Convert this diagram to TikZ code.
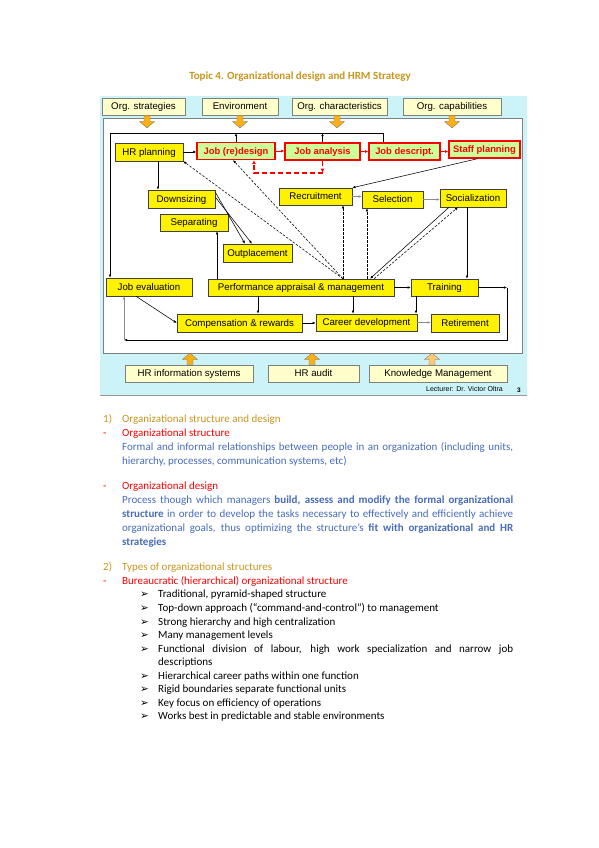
\documentclass[tikz,border=0pt]{standalone}
\usepackage{fontspec}
\setmainfont{Carlito}
\newfontfamily\arialf{Liberation Sans}
\newfontfamily\dejavuf{DejaVu Sans}
\usetikzlibrary{arrows.meta,calc}
\definecolor{goldc}{RGB}{200,150,30}
\definecolor{bluec}{RGB}{72,108,188}
\definecolor{redc}{RGB}{250,0,0}
\definecolor{cyanbg}{RGB}{204,244,248}
\definecolor{creamc}{RGB}{255,255,204}
\definecolor{greenc}{RGB}{204,255,153}
\definecolor{orangec}{RGB}{250,175,20}
\definecolor{orangel}{RGB}{252,200,120}
\tikzset{
  ybox/.style={draw=black!75,line width=0.5pt,fill=yellow,inner sep=0pt,
    text height=7pt,text depth=0.6pt,
    font=\arialf\fontsize{9.7}{10}\selectfont},
  rbox/.style={draw=redc,line width=1.2pt,fill=greenc,inner sep=0pt,text=redc,
    text height=7pt,text depth=0.6pt,
    font=\arialf\bfseries\fontsize{9.4}{10}\selectfont},
  cbox/.style={draw=black!50,line width=0.5pt,fill=creamc,inner sep=0pt,
    text height=7pt,text depth=0.6pt,
    font=\arialf\fontsize{9.7}{10}\selectfont},
  ln/.style={draw=black,line width=0.55pt},
  arr/.style={ln,-{Latex[length=3.2pt,width=2.6pt]}},
  garr/.style={draw=black!45,line width=0.55pt,-{Latex[length=3.2pt,width=2.6pt]}},
  rarr/.style={draw=redc,line width=0.8pt,-{Latex[length=3.4pt,width=3pt]}},
  darr/.style={arr,dash pattern=on 2.5pt off 1.5pt},
  rdash/.style={draw=redc,line width=1.3pt,dash pattern=on 5pt off 3pt,-{Latex[length=4pt,width=4pt]}},
  orar/.style={fill=orangec,draw=black!55,line width=0.3pt},
  bodyt/.style={inner sep=0pt,anchor=base west,font=\fontsize{11}{13}\selectfont},
}
\newcommand\ArrDn[4][orangec]{\filldraw[orar,fill=#1] ({#2-3},#3) -- ({#2+3},#3) -- ({#2+3},{#4-6.5}) -- ({#2+7.5},{#4-6.5}) -- (#2,#4) -- ({#2-7.5},{#4-6.5}) -- ({#2-3},{#4-6.5}) -- cycle;}
\newcommand\ArrUpw[4][orangec]{\filldraw[orar,fill=#1] ({#2-3},#3) -- ({#2+3},#3) -- ({#2+3},{#4+6.5}) -- ({#2+7.5},{#4+6.5}) -- (#2,#4) -- ({#2-7.5},{#4+6.5}) -- ({#2-3},{#4+6.5}) -- cycle;}
\newcommand\bul{{\dejavuf\fontsize{10.5}{10}\selectfont ➢}}
\begin{document}
\begin{tikzpicture}[x=1pt,y=-1pt]
\useasboundingbox[fill=white] (0,0) rectangle (599,848);
% title
\node[font=\bfseries\fontsize{11}{13}\selectfont,text=goldc,inner sep=0pt] (title) at (300,77) {Topic 4. Organizational design and HRM Strategy};
% backgrounds
\fill[cyanbg] (100,96) rectangle (527,395);
\draw[black!40,line width=0.6pt] (100,395) -- (527,395);
\draw[draw=black!50,fill=white,line width=0.5pt] (103,118) rectangle (522,353);
% top cream boxes
\node[cbox,minimum width=83pt,minimum height=17pt] (ostr) at (143.5,106.5) {Org. strategies};
\node[cbox,minimum width=76pt,minimum height=17pt] (oenv) at (240,106.5) {Environment};
\node[cbox,minimum width=95pt,minimum height=17pt] (ochar) at (339.5,106.5) {Org. characteristics};
\node[cbox,minimum width=98pt,minimum height=17pt] (ocap) at (452,106.5) {Org. capabilities};
\ArrDn{147}{115.5}{128}
\ArrDn{240}{115.5}{128}
\ArrDn{337}{115.5}{128}
\ArrDn{452}{115.5}{128}
% bottom cream boxes
\node[cbox,minimum width=128pt,minimum height=17pt] (hris) at (189,373.5) {HR information systems};
\node[cbox,minimum width=91pt,minimum height=17pt] (hraud) at (313.5,373.5) {HR audit};
\node[cbox,minimum width=138pt,minimum height=17pt] (km) at (438,373.5) {Knowledge Management};
\ArrUpw{190}{364.5}{353}
\ArrUpw{312}{364.5}{353}
\ArrUpw[orangel]{432}{365}{353}
% main nodes
\node[ybox,minimum width=68pt,minimum height=18pt] (hrplan) at (149,152) {HR planning};
\node[rbox,minimum width=78pt,minimum height=17pt] (redesign) at (236,151) {Job (re)design};
\node[rbox,minimum width=75pt,minimum height=17pt] (analysis) at (322.5,151.5) {Job analysis};
\node[rbox,minimum width=71pt,minimum height=17pt] (descript) at (404.5,151.5) {Job descript.};
\node[rbox,minimum width=71pt,minimum height=17pt] (staff) at (484.5,149.5) {Staff planning};
\node[ybox,minimum width=67pt,minimum height=18pt] (downs) at (181.5,199) {Downsizing};
\node[ybox,minimum width=68pt,minimum height=17pt] (separ) at (194,222.5) {Separating};
\node[ybox,minimum width=69pt,minimum height=18pt] (outpl) at (257.5,253) {Outplacement};
\node[ybox,minimum width=73pt,minimum height=17pt] (recr) at (315.5,196.5) {Recruitment};
\node[ybox,minimum width=61pt,minimum height=17pt] (selec) at (392.5,199.5) {Selection};
\node[ybox,minimum width=66pt,minimum height=18pt] (social) at (473,198) {Socialization};
\node[ybox,minimum width=86pt,minimum height=18pt] (jobev) at (149,287) {Job evaluation};
\node[ybox,minimum width=186pt,minimum height=17pt] (perf) at (301,287.5) {Performance appraisal \& management};
\node[ybox,minimum width=67pt,minimum height=17pt] (train) at (444.5,287.5) {Training};
\node[ybox,minimum width=125pt,minimum height=18pt] (comp) at (239.5,323) {Compensation \& rewards};
\node[ybox,minimum width=101pt,minimum height=17pt] (career) at (366.5,322.5) {Career development};
\node[ybox,minimum width=68pt,minimum height=18pt] (retir) at (465,323) {Retirement};
% coordinates
\coordinate (tl) at (110,133);
\coordinate (dd) at (254,173);
\coordinate (br) at (507,340);
\coordinate (jl) at (124,340);
% top loop
\draw[arr] ([xshift=-21.5pt]descript.north) |- (tl) -- (tl |- jobev.north);
\draw[arr] (redesign.north) -- (redesign.north |- tl);
\draw[arr] (analysis.north) -- (analysis.north |- tl);
% first row
\draw[arr] (hrplan.east) -- (hrplan.east -| redesign.west);
\draw[rarr] (redesign.east) -- (redesign.east -| analysis.west);
\draw[rarr] (analysis.east) -- (analysis.east -| descript.west);
\draw[rarr] (descript.east) -- (descript.east -| staff.west);
\draw[rdash] (analysis.south) -- ++(0,12);
\draw[rdash] (analysis.south |- dd) -- (dd) -- ([xshift=18pt]redesign.south);
% second row
\draw[arr] ([xshift=9pt]hrplan.south) -- ([xshift=9pt]hrplan.south |- downs.north);
\draw[arr] ([yshift=7pt]downs.east) -- ([xshift=-12.5pt]outpl.north);
\draw[arr] ([yshift=2pt]downs.east) -- ([xshift=-5.5pt]outpl.north);
\draw[arr] ([xshift=-84pt]perf.north) -- ([xshift=-84pt]perf.north |- separ.south);
\draw[arr] ([xshift=-6.5pt]staff.south) -- (recr.north east);
\draw[garr] (recr.east) -- (recr.east -| selec.west);
\draw[garr] (selec.east) -- (selec.east -| social.west);
\draw[arr] ([xshift=-6pt]social.south) -- ([xshift=-6pt]social.south |- train.north);
% dashed from performance
\coordinate (pd) at ([xshift=42pt]perf.north);
\draw[darr] (pd) -- (hrplan.south east);
\draw[darr] (pd) -- ([xshift=-3pt]redesign.south);
\draw[darr] (pd) -- (pd |- recr.south);
\draw[darr] ([xshift=66pt]perf.north) -- ([xshift=66pt]perf.north |- selec.south);
\draw[darr] ([xshift=73pt]perf.north) -- ([xshift=-15pt]social.south);
\draw[arr] ([xshift=-24pt]social.south) -- ([xshift=69pt]perf.north);
% third / fourth rows
\draw[arr] (perf.east) -- (perf.east -| train.west);
\draw[arr] ([xshift=-13pt]jobev.south) -- (comp.west);
\draw[arr] ([xshift=-43pt]perf.south) -- ([xshift=-43pt]perf.south |- comp.north);
\draw[arr] ([xshift=52pt]perf.south) -- ([xshift=52pt]perf.south |- career.north);
\draw[arr] ([xshift=-28.5pt]train.south) -- ([xshift=-28.5pt]train.south |- career.north);
\draw[arr] (comp.east) -- (comp.east -| career.west);
\draw[garr] (career.east) -- (career.east -| retir.west);
\draw[arr] (train.east) -- (train.east -| br);
\draw[arr] (train.east -| br) -- (br) -- (jl);
\draw[garr] (jl) -- (jl |- jobev.south);
% lecturer
\node[font=\arialf\fontsize{7}{8}\selectfont,inner sep=0pt,anchor=east] (lect) at (503,389) {Lecturer: Dr. Victor Oltra};
\node[font=\arialf\bfseries\fontsize{6.5}{7}\selectfont,inner sep=0pt] (pnum) at (519,390) {3};
% body text
\node[bodyt,text=goldc] (n1) at (103,422) {1)};
\node[bodyt,text=goldc] (h1) at (122,422) {Organizational structure and design};
\node[bodyt,text=redc] (d1) at (103,436) {-};
\node[bodyt,text=redc] (s1) at (122,436) {Organizational structure};
\node[bodyt,text=bluec] (p1) at (122,450) {\makebox[391pt][s]{Formal and informal relationships between people in an organization (including units,}};
\node[bodyt,text=bluec] (p2) at (122,464) {hierarchy, processes, communication systems, etc)};
\node[bodyt,text=redc] (d2) at (103,489) {-};
\node[bodyt,text=redc] (s2) at (122,489) {Organizational design};
\node[bodyt,text=bluec] (q1) at (122,503) {\makebox[391pt][s]{Process though which managers \textbf{build, assess and modify the formal organizational}}};
\node[bodyt,text=bluec] (q2) at (122,517) {\makebox[391pt][s]{\textbf{structure} in order to develop the tasks necessary to effectively and efficiently achieve}};
\node[bodyt,text=bluec] (q3) at (122,531) {\makebox[391pt][s]{organizational goals, thus optimizing the structure’s \textbf{fit with organizational and HR}}};
\node[bodyt,text=bluec] (q4) at (122,545) {\textbf{strategies}};
\node[bodyt,text=goldc] (n2) at (103,570) {2)};
\node[bodyt,text=goldc] (h2) at (122,570) {Types of organizational structures};
\node[bodyt,text=redc] (d3) at (103,584) {-};
\node[bodyt,text=redc] (s3) at (122,584) {Bureaucratic (hierarchical) organizational structure};
\foreach \yy/\nm in {597/b1,611/b2,625/b3,638/b4,652/b5,679/b6,692/b7,706/b8,719/b9}
  \node[bodyt] (\nm) at (140,\yy) {\bul};
\node[bodyt] (t1) at (158,597) {Traditional, pyramid-shaped structure};
\node[bodyt] (t2) at (158,611) {Top-down approach (“command-and-control”) to management};
\node[bodyt] (t3) at (158,625) {Strong hierarchy and high centralization};
\node[bodyt] (t4) at (158,638) {Many management levels};
\node[bodyt] (t5) at (158,652) {\makebox[355pt][s]{Functional division of labour, high work specialization and narrow job}};
\node[bodyt] (t5b) at (158,665) {descriptions};
\node[bodyt] (t6) at (158,679) {Hierarchical career paths within one function};
\node[bodyt] (t7) at (158,692) {Rigid boundaries separate functional units};
\node[bodyt] (t8) at (158,706) {Key focus on efficiency of operations};
\node[bodyt] (t9) at (158,719) {Works best in predictable and stable environments};
\end{tikzpicture}
\end{document}
